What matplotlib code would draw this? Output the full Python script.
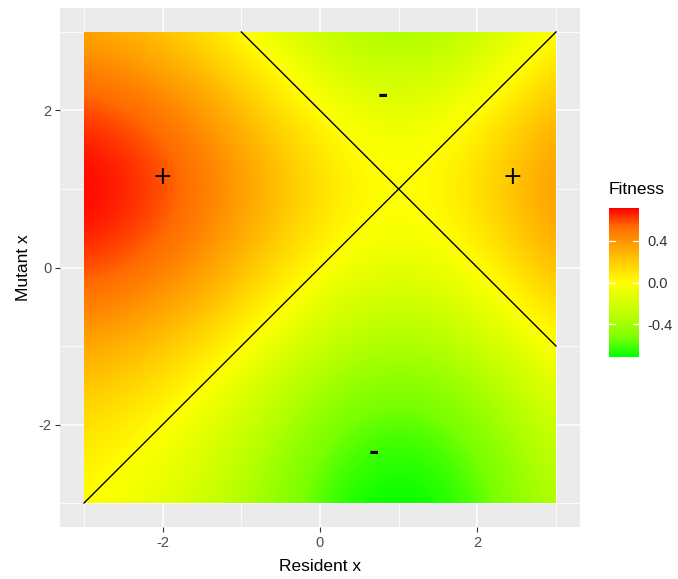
import matplotlib
matplotlib.use("Agg")
import matplotlib.pyplot as plt
from matplotlib.colors import LinearSegmentedColormap, Normalize
from matplotlib.patches import Rectangle
import numpy as np

# ---- data ----
resident_x = [-3.0, -2.5, -2.0, -1.5, -1.0, -0.5, 0.0, 0.5, 1.0, 1.5, 2.0, 2.5, 3.0]
mutant_x = [-3.0, -2.5, -2.0, -1.5, -1.0, -0.5, 0.0, 0.5, 1.0, 1.5, 2.0, 2.5, 3.0]
# rows: mutant x from -3 (first) to 3 (last); columns: resident x from -3 to 3
fitness = [
    [0.00, -0.05, -0.12, -0.22, -0.34, -0.47, -0.59, -0.68, -0.71, -0.68, -0.59, -0.47, -0.34],
    [0.05, 0.00, -0.07, -0.17, -0.29, -0.43, -0.55, -0.63, -0.66, -0.63, -0.55, -0.43, -0.29],
    [0.12, 0.07, 0.00, -0.10, -0.22, -0.35, -0.48, -0.56, -0.59, -0.56, -0.48, -0.35, -0.22],
    [0.22, 0.17, 0.10, 0.00, -0.12, -0.26, -0.38, -0.46, -0.49, -0.46, -0.38, -0.26, -0.12],
    [0.34, 0.29, 0.22, 0.12, 0.00, -0.13, -0.25, -0.34, -0.37, -0.34, -0.25, -0.13, 0.00],
    [0.47, 0.43, 0.35, 0.26, 0.13, 0.00, -0.12, -0.21, -0.24, -0.21, -0.12, 0.00, 0.13],
    [0.59, 0.55, 0.48, 0.38, 0.25, 0.12, 0.00, -0.09, -0.12, -0.09, 0.00, 0.12, 0.25],
    [0.68, 0.63, 0.56, 0.46, 0.34, 0.21, 0.09, 0.00, -0.03, 0.00, 0.09, 0.21, 0.34],
    [0.71, 0.66, 0.59, 0.49, 0.37, 0.24, 0.12, 0.03, 0.00, 0.03, 0.12, 0.24, 0.37],
    [0.68, 0.63, 0.56, 0.46, 0.34, 0.21, 0.09, 0.00, -0.03, 0.00, 0.09, 0.21, 0.34],
    [0.59, 0.55, 0.48, 0.38, 0.25, 0.12, 0.00, -0.09, -0.12, -0.09, 0.00, 0.12, 0.25],
    [0.47, 0.43, 0.35, 0.26, 0.13, 0.00, -0.12, -0.21, -0.24, -0.21, -0.12, 0.00, 0.13],
    [0.34, 0.29, 0.22, 0.12, 0.00, -0.13, -0.25, -0.34, -0.37, -0.34, -0.25, -0.13, 0.00],
]
# zero-fitness lines (start, end)
line_diag = ([-3, 3], [-3, 3])
line_anti = ([-1, 3], [3, -1])
# sign labels
sign_labels = ["+", "+", "-", "-"]
sign_x = [-2.0, 2.45, 0.8, 0.68]
sign_y = [1.15, 1.15, 2.2, -2.35]
x_ticks = [-2, 0, 2]
y_ticks = [-2, 0, 2]
cbar_ticks = [-0.4, 0.0, 0.4]
cbar_ticklabels = ["-0.4", "0.0", "0.4"]

# ---- style ----
plt.rcParams['font.family'] = ['Liberation Sans', 'DejaVu Sans']
cmap = LinearSegmentedColormap.from_list("fit", [
    (0.0, "#00FF00"), (0.125, "#79FF00"), (0.25, "#AFFF00"), (0.375, "#D8FF00"),
    (0.5, "#FFFF00"), (0.625, "#FFD100"), (0.75, "#FFA100"), (0.875, "#FF6C00"),
    (1.0, "#FF0000")])

F = np.array(fitness)
vmin, vmax = F.min(), F.max()
norm = Normalize(vmin=vmin, vmax=vmax)

W, H = 678, 579
fig = plt.figure(figsize=(W / 100, H / 100), dpi=100)
fig.patch.set_facecolor("white")

ax = fig.add_axes([60.4 / W, (H - 526.6) / H, 519.2 / W, 518.2 / H])
ax.set_facecolor("#EBEBEB")
dx = (resident_x[1] - resident_x[0]) / 2
dy = (mutant_x[1] - mutant_x[0]) / 2
im = ax.imshow(F, origin="lower", cmap=cmap, norm=norm, interpolation="bicubic",
               extent=[resident_x[0] - dx, resident_x[-1] + dx, mutant_x[0] - dy, mutant_x[-1] + dy],
               aspect="auto", zorder=2)
clip = Rectangle((resident_x[0], mutant_x[0]), resident_x[-1] - resident_x[0],
                 mutant_x[-1] - mutant_x[0], transform=ax.transData, facecolor="none", edgecolor="none")
ax.add_patch(clip)
im.set_clip_path(clip)

ax.set_xlim(-3.3, 3.3)
ax.set_ylim(-3.3, 3.3)

# grid
for v in [-3, -1, 1, 3]:
    ax.axvline(v, color="white", lw=0.55, zorder=1)
    ax.axhline(v, color="white", lw=0.55, zorder=1)
for v in x_ticks:
    ax.axvline(v, color="white", lw=1.1, zorder=1)
for v in y_ticks:
    ax.axhline(v, color="white", lw=1.1, zorder=1)

ax.plot(line_diag[0], line_diag[1], color="black", lw=1.0, zorder=3)
ax.plot(line_anti[0], line_anti[1], color="black", lw=1.0, zorder=3)

for lab, sx, sy in zip(sign_labels, sign_x, sign_y):
    ax.text(sx, sy, lab, ha="center", va="center", fontsize=17 if lab == "+" else 18,
            color="black", zorder=4, family="DejaVu Sans",
            fontweight="bold" if lab == "-" else "normal")

for s in ax.spines.values():
    s.set_visible(False)
ax.set_xticks(x_ticks)
ax.set_yticks(y_ticks)
ax.set_xticklabels([str(t) for t in x_ticks])
ax.set_yticklabels([str(t) for t in y_ticks])
ax.tick_params(axis="both", length=3.5, width=0.8, color="#333333", labelcolor="#4D4D4D",
               labelsize=10.5, pad=3)
ax.set_xlabel("Resident x", fontsize=12.5, color="black", labelpad=7)
ax.set_ylabel("Mutant x", fontsize=12.5, color="black", labelpad=5)

# colorbar
cax = fig.add_axes([609 / W, (H - 357) / H, 30 / W, 149 / H])
cb = fig.colorbar(im, cax=cax, ticks=cbar_ticks)
cb.outline.set_visible(False)
cb.set_ticklabels(cbar_ticklabels)
cax.tick_params(length=0, labelsize=10.5, labelcolor="#333333", pad=6)
for t in cbar_ticks:
    cax.plot([0, 0.2], [t, t], color="white", lw=0.9, transform=cax.get_yaxis_transform())
    cax.plot([0.8, 1.0], [t, t], color="white", lw=0.9, transform=cax.get_yaxis_transform())
fig.text(609 / W, 1 - 190 / H, "Fitness", fontsize=12.5, ha="left", va="center", color="black")

fig.savefig("out.png", dpi=100)
